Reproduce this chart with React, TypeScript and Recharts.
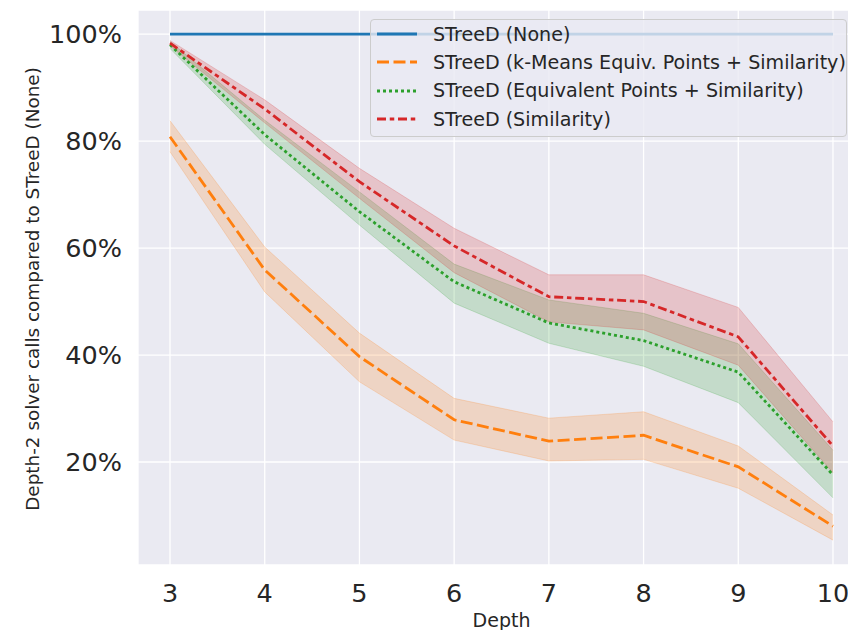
import React from 'react';
import { ComposedChart, Line, Area, XAxis, YAxis, CartesianGrid } from 'recharts';

// Depth on the x axis
const depths = [3, 4, 5, 6, 7, 8, 9, 10];

// mean share of depth-2 solver calls, in percent of STreeD (None)
const noneMean = [100, 100, 100, 100, 100, 100, 100, 100];
const kmeansMean = [80.8, 55.9, 39.7, 27.9, 23.9, 25.0, 19.1, 8.0];
const kmeansLow = [78.0, 51.8, 35.0, 24.1, 20.2, 20.5, 15.1, 5.4];
const kmeansHigh = [83.8, 60.2, 44.1, 31.9, 28.2, 29.4, 23.0, 10.1];
const equivMean = [98.0, 81.2, 66.8, 53.7, 46.0, 42.7, 36.8, 17.6];
const equivLow = [97.3, 79.4, 64.3, 49.7, 42.2, 37.9, 31.1, 13.3];
const equivHigh = [98.6, 83.9, 70.5, 57.0, 50.3, 47.8, 42.1, 22.2];
const simMean = [98.3, 86.0, 72.4, 60.4, 50.9, 50.0, 43.4, 23.0];
const simLow = [97.8, 83.4, 69.3, 55.4, 46.2, 44.7, 38.1, 18.0];
const simHigh = [98.8, 87.7, 74.9, 63.7, 55.0, 55.0, 48.9, 27.5];

const yTicks = [20, 40, 60, 80, 100];

const FONT = '"DejaVu Sans", sans-serif';
const TEXT = '#262626';

const series = [
  { key: 'none', name: 'STreeD (None)', color: '#1f77b4', dash: undefined as string | undefined },
  { key: 'kmeans', name: 'STreeD (k-Means Equiv. Points + Similarity)', color: '#ff7f0e', dash: '12 4.5' },
  { key: 'equiv', name: 'STreeD (Equivalent Points + Similarity)', color: '#2ca02c', dash: '3 3' },
  { key: 'sim', name: 'STreeD (Similarity)', color: '#d62728', dash: '9 3.75 4.5 3.75' },
];

const data = depths.map((d, i) => ({
  depth: d,
  none: noneMean[i],
  kmeans: kmeansMean[i],
  kmeansBand: [kmeansLow[i], kmeansHigh[i]],
  equiv: equivMean[i],
  equivBand: [equivLow[i], equivHigh[i]],
  sim: simMean[i],
  simBand: [simLow[i], simHigh[i]],
}));

const XLabel = (props: any) => {
  const vb = props.viewBox || { x: 138, y: 565, width: 727 };
  return (
    <text x={vb.x + vb.width / 2} y={627} textAnchor="middle" fontSize={19} fontFamily={FONT} fill={TEXT}>
      Depth
    </text>
  );
};

const YLabel = () => (
  <text
    x={38.5}
    y={289}
    transform="rotate(-90 38.5 289)"
    textAnchor="middle"
    fontSize={18.4}
    fontFamily={FONT}
    fill={TEXT}
  >
    Depth-2 solver calls compared to STreeD (None)
  </text>
);

const LegendBox = () => (
  <div
    style={{
      position: 'absolute',
      left: 370,
      top: 19,
      width: 477,
      height: 118,
      boxSizing: 'border-box',
      border: '1px solid #cccccc',
      borderRadius: 4,
      background: 'rgba(234,234,242,0.8)',
      fontFamily: FONT,
      fontSize: 19.1,
      color: TEXT,
    }}
  >
    {series.map(s => (
      <div key={s.key} style={{ height: 28.3, display: 'flex', alignItems: 'center', whiteSpace: 'nowrap' }}>
        <svg width={62} height={10} style={{ flex: 'none' }}>
          <line x1={6} x2={46} y1={5} y2={5} stroke={s.color} strokeWidth={2.8} strokeDasharray={s.dash} />
        </svg>
        <span>{s.name}</span>
      </div>
    ))}
  </div>
);

export default function App() {
  return (
    <div style={{ position: 'absolute', left: 0, top: 0, width: 848, height: 630, overflow: 'hidden', background: '#fff' }}>
      <ComposedChart width={880} height={630} data={data} margin={{ top: 10, right: 15, left: 0, bottom: 0 }}>
        <CartesianGrid fill="#EAEAF2" fillOpacity={1} stroke="#ffffff" strokeWidth={1.3} />
        <XAxis
          dataKey="depth"
          type="number"
          domain={[2.662, 10.338]}
          ticks={depths}
          allowDataOverflow
          axisLine={false}
          tickLine={false}
          height={65}
          tickMargin={13}
          tick={{ fontSize: 25.5, fill: TEXT, fontFamily: FONT }}
          label={XLabel}
        />
        <YAxis
          type="number"
          domain={[0.75, 104.5]}
          ticks={yTicks}
          allowDataOverflow
          axisLine={false}
          tickLine={false}
          width={138}
          tickMargin={10}
          tickFormatter={(v: number) => `${v}%`}
          tick={{ fontSize: 25.5, fill: TEXT, fontFamily: FONT }}
          label={YLabel}
        />
        <Area
          dataKey="kmeansBand"
          type="linear"
          fill="#ff7f0e"
          fillOpacity={0.2}
          stroke="#ff7f0e"
          strokeOpacity={0.2}
          strokeWidth={1}
          isAnimationActive={false}
        />
        <Area
          dataKey="equivBand"
          type="linear"
          fill="#2ca02c"
          fillOpacity={0.2}
          stroke="#2ca02c"
          strokeOpacity={0.2}
          strokeWidth={1}
          isAnimationActive={false}
        />
        <Area
          dataKey="simBand"
          type="linear"
          fill="#d62728"
          fillOpacity={0.2}
          stroke="#d62728"
          strokeOpacity={0.2}
          strokeWidth={1}
          isAnimationActive={false}
        />
        {series.map(s => (
          <Line
            key={s.key}
            dataKey={s.key}
            name={s.name}
            type="linear"
            stroke={s.color}
            strokeWidth={2.8}
            strokeDasharray={s.dash}
            dot={false}
            activeDot={false}
            isAnimationActive={false}
          />
        ))}
      </ComposedChart>
      <LegendBox />
    </div>
  );
}
